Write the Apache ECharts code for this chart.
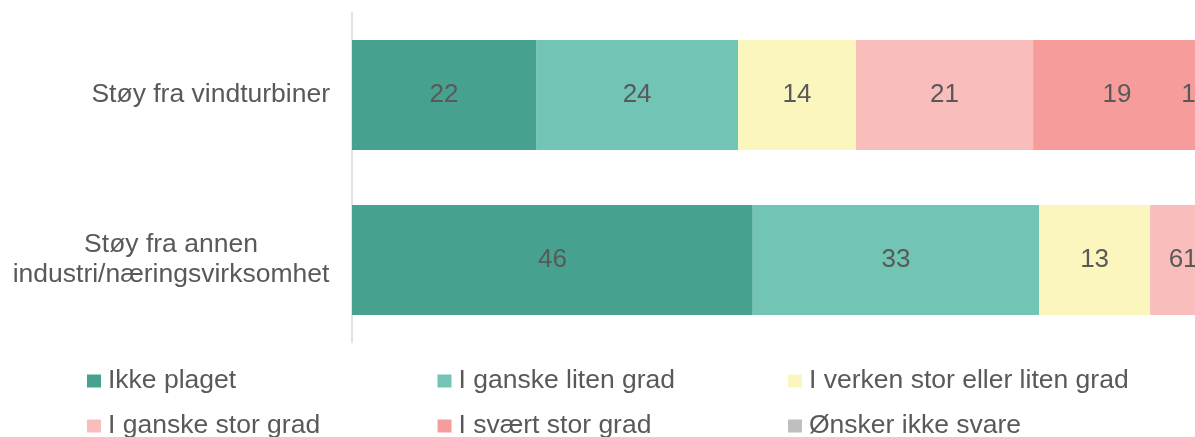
<!DOCTYPE html>
<html>
<head>
<meta charset="utf-8">
<script src="https://cdn.jsdelivr.net/npm/echarts@6/dist/echarts.min.js"></script>
<style>
html,body{margin:0;padding:0;background:#fff;}
#chart{width:1195px;height:437px;}
</style>
</head>
<body>
<div id="chart"></div>
<script>
// Categories (top to bottom)
const categories = ['Støy fra vindturbiner', 'Støy fra annen\nindustri/næringsvirksomhet'];
const seriesNames = ['Ikke plaget', 'I ganske liten grad', 'I verken stor eller liten grad', 'I ganske stor grad', 'I svært stor grad', 'Ønsker ikke svare'];
const seriesColors = ['#46A28F', '#72C4B4', '#FBF6BE', '#F9BEBC', '#F69D9B', '#BFBFBF'];
// Estimated bar lengths (percent)
const ikkePlaget   = [21.4, 46.6];
const litenGrad    = [23.5, 33.3];
const verken       = [13.7, 12.9];
const storGrad     = [20.6, 6.0];
const svaertStor   = [19.5, 0.6];
const onskerIkke   = [1.3, 0.6];
// Printed data labels (rounded percent as shown)
const ikkePlagetLbl = ['22', '46'];
const litenGradLbl  = ['24', '33'];
const verkenLbl     = ['14', '13'];
const storGradLbl   = ['21', '6'];
const svaertStorLbl = ['19', '1'];
const onskerIkkeLbl = ['1', ''];

const values = [ikkePlaget, litenGrad, verken, storGrad, svaertStor, onskerIkke];
const labels = [ikkePlagetLbl, litenGradLbl, verkenLbl, storGradLbl, svaertStorLbl, onskerIkkeLbl];

const textColor = '#595959';
const font = 'Liberation Sans, Arial, sans-serif';

const chart = echarts.init(document.getElementById('chart'), null, {renderer: 'canvas'});

const series = seriesNames.map((name, si) => ({
  name: name,
  type: 'bar',
  stack: 'total',
  barWidth: 110,
  itemStyle: {color: seriesColors[si]},
  label: {
    show: true,
    position: 'inside',
    color: textColor,
    fontFamily: font,
    fontSize: 26,
    formatter: p => labels[si][p.dataIndex]
  },
  data: values[si].map((v, di) => {
    const item = {value: v};
    // Excel pushes labels of tiny end segments back inside the chart area
    if (v < 2) {
      item.label = {offset: [si === 5 ? -18 : -14, 0]};
    }
    return item;
  })
}));

const legendCommon = {
  orient: 'horizontal',
  left: 87,
  padding: 0,
  itemWidth: 14,
  itemHeight: 13,
  itemGap: 29.5,
  icon: 'rect',
  selectedMode: false,
  textStyle: {color: textColor, fontFamily: font, fontSize: 26.5, lineHeight: 30, width: 300, padding: [0, 0, 0, 2]}
};

chart.setOption({
  animation: false,
  backgroundColor: '#ffffff',
  grid: {left: 352, top: 12.5, width: 860, height: 330, containLabel: false, outerBoundsMode: 'none'},
  xAxis: {
    type: 'value', min: 0, max: 100,
    show: false,
    splitLine: {show: false}
  },
  yAxis: {
    type: 'category',
    data: categories,
    inverse: true,
    axisLine: {show: true, lineStyle: {color: '#D9D9D9', width: 1.5}},
    axisTick: {show: false},
    axisLabel: {
      margin: 22,
      color: textColor,
      fontFamily: font,
      fontSize: 26.5,
      lineHeight: 30,
      formatter: v => v.indexOf('\n') >= 0 ? v.split('\n').map(l => '{c|' + l + '}').join('\n') : v,
      rich: {c: {width: 318, align: 'center', color: textColor, fontFamily: font, fontSize: 26.5, lineHeight: 30}}
    }
  },
  legend: [
    Object.assign({}, legendCommon, {top: 366, data: seriesNames.slice(0, 3)}),
    Object.assign({}, legendCommon, {top: 411, data: seriesNames.slice(3, 6)})
  ],
  series: series
});
</script>
</body>
</html>
